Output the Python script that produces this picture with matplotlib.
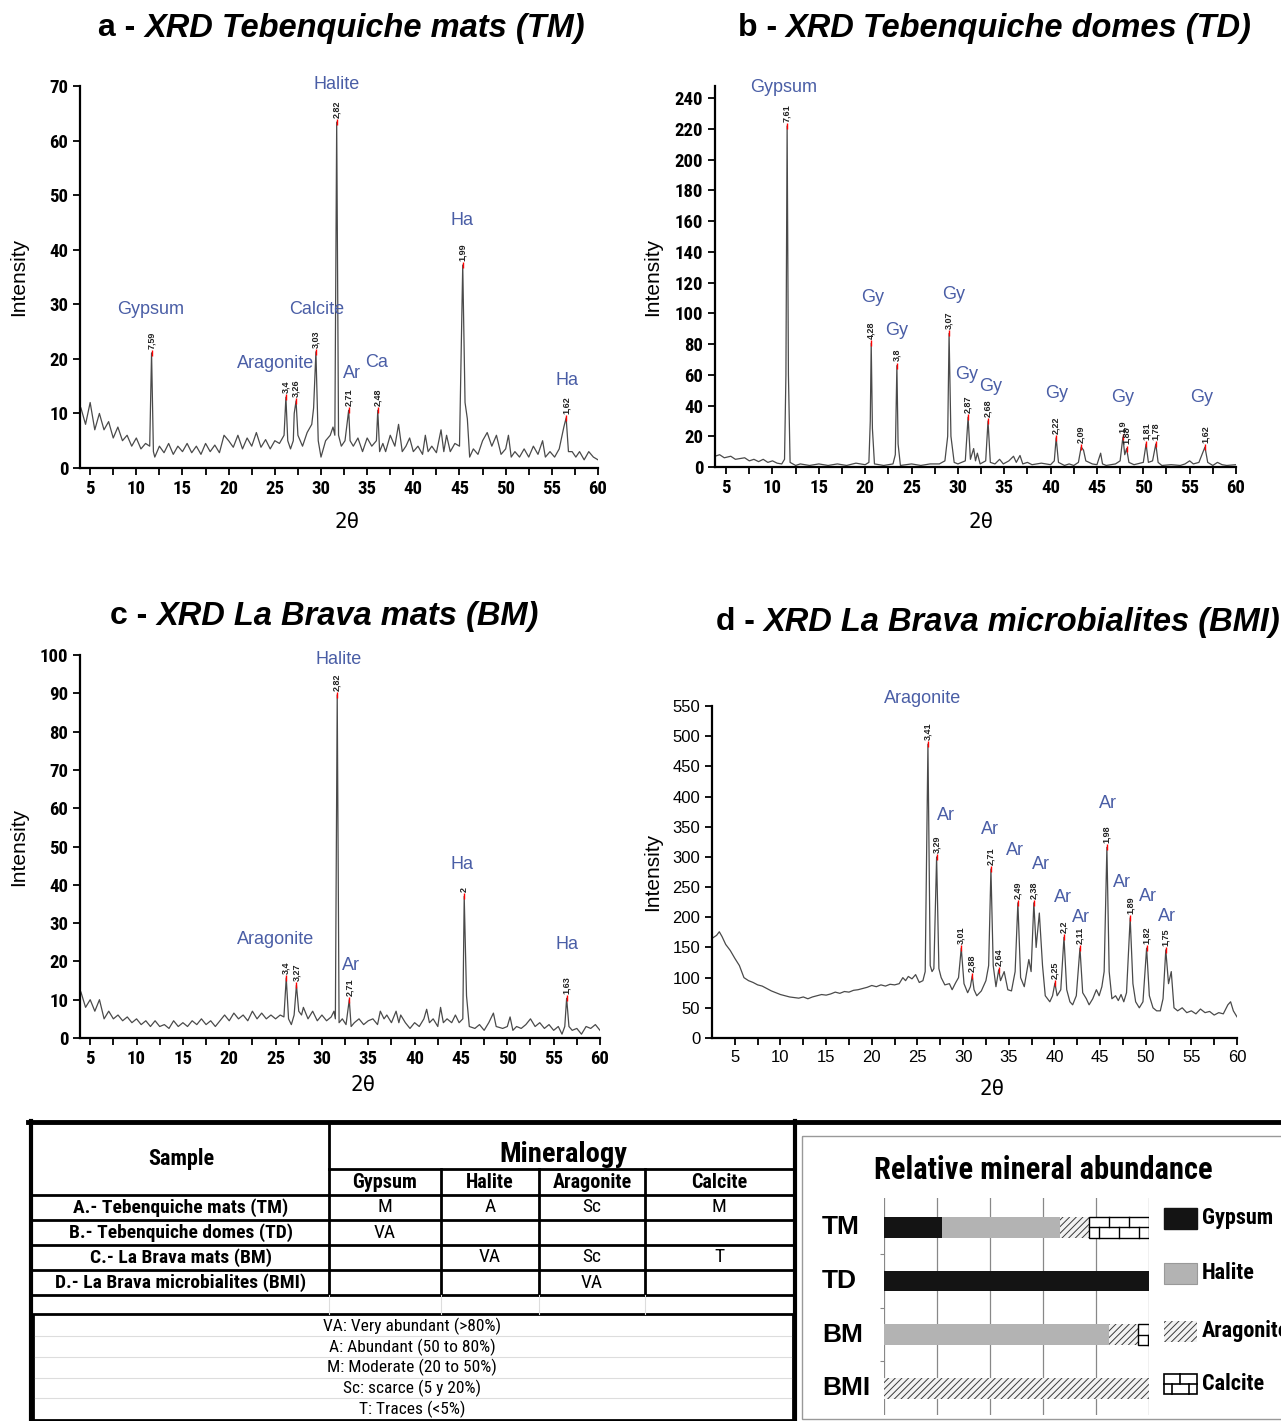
import numpy as np
import matplotlib
matplotlib.use("Agg")
import matplotlib.pyplot as plt
from matplotlib import font_manager
from matplotlib.patches import Rectangle
import matplotlib.transforms as mtransforms

# ---------------------------------------------------------------- data
# Panel a - Tebenquiche mats (TM)
A_X = [4.0, 4.5, 5.0, 5.5, 6.0, 6.5, 7.0, 7.5, 8.0, 8.5, 9.0, 9.5, 10.0, 10.5, 11.0, 11.45, 11.65, 11.85,
       12.0, 12.5, 13.0, 13.5, 14.0, 14.5, 15.0, 15.5, 16.0, 16.5, 17.0, 17.5, 18.0, 18.5, 19.0, 19.5,
       20.0, 20.5, 21.0, 21.5, 22.0, 22.5, 23.0, 23.5, 24.0, 24.5, 25.0, 25.5, 26.0, 26.2, 26.4, 26.7,
       27.0, 27.1, 27.3, 27.5, 28.0, 28.5, 29.0, 29.2, 29.45, 29.7, 30.0, 30.5, 31.0, 31.3, 31.5, 31.7,
       31.9, 32.2, 32.6, 33.0, 33.15, 33.5, 34.0, 34.5, 35.0, 35.5, 36.0, 36.15, 36.35, 36.7, 37.0, 37.5,
       38.0, 38.4, 38.8, 39.2, 39.6, 40.0, 40.5, 41.0, 41.3, 41.6, 42.0, 42.5, 43.0, 43.3, 43.6, 44.0,
       44.5, 45.0, 45.35, 45.6, 45.85, 46.1, 46.5, 47.0, 47.5, 48.0, 48.5, 49.0, 49.5, 50.0, 50.3, 50.6,
       51.0, 51.5, 52.0, 52.5, 53.0, 53.5, 54.0, 54.3, 54.8, 55.3, 55.8, 56.3, 56.55, 56.8, 57.2, 57.6,
       58.0, 58.5, 59.0, 59.5, 60.0]
A_Y = [11, 8, 12, 7, 10, 7, 8.5, 5.5, 7.5, 5, 6, 4, 5.5, 3.5, 4.5, 4, 21.1, 3,
       2, 4, 2.8, 4.5, 2.5, 4, 3, 4.5, 2.8, 4, 2.5, 4.5, 3, 4.2, 2.8, 6,
       5, 3.8, 6, 3.5, 5.5, 4, 6.5, 3.8, 5.2, 3.5, 5, 4.5, 6, 13, 5, 3.5,
       5, 10, 12.3, 6, 4, 6.5, 8, 11, 21.3, 5, 2, 5, 6, 7.5, 6, 63.4,
       6, 4, 5, 10.6, 5, 4, 5.5, 3, 5.5, 4, 5, 10.6, 3, 4.5, 3, 6,
       4, 8, 3, 4, 5.5, 3, 4, 2.5, 6, 3, 4, 2.8, 7, 3, 6, 3,
       4.5, 4, 37.2, 12, 9, 2, 3.5, 2.5, 5, 6.5, 4, 6, 2.5, 3.5, 6, 2,
       3, 2, 3.5, 2, 4, 2.5, 5, 2, 3, 2, 3.5, 7.5, 9.2, 3, 3, 2,
       3, 1.5, 3, 2, 1.5]
A_D_POS = [11.65, 26.2, 27.3, 29.45, 31.7, 33.0, 36.15, 45.35, 56.55]
A_D_INT = [21.1, 13, 12.3, 21.3, 63.4, 10.6, 10.6, 37.2, 9.2]
A_D_TXT = ["7,59", "3,4", "3,26", "3,03", "2,82", "2,71", "2,48", "1,99", "1,62"]
A_MIN = ["Gypsum", "Aragonite", "Calcite", "Halite", "Ar", "Ca", "Ha", "Ha"]

# Panel b - Tebenquiche domes (TD)
B_X = [3.8, 4.3, 4.8, 5.5, 6.0, 7.0, 7.5, 8.0, 8.5, 9.0, 9.5, 10.0, 10.5, 11.0, 11.3, 11.45, 11.58, 11.72, 11.9,
       12.5, 13.0, 14.0, 15.0, 16.0, 17.0, 18.0, 19.0, 20.0, 20.4, 20.55, 20.65, 20.78, 21.0, 22.0, 23.0,
       23.25, 23.42, 23.55, 23.8, 25.0, 26.0, 27.0, 28.0, 28.6, 28.9, 29.05, 29.25, 29.6, 30.0, 30.8, 31.1,
       31.35, 31.7, 31.9, 32.1, 32.4, 33.0, 33.25, 33.5, 34.0, 34.5, 34.9, 35.5, 36.0, 36.3, 36.7, 37.0,
       37.5, 38.0, 39.0, 40.0, 40.4, 40.6, 40.85, 41.5, 42.0, 42.5, 43.0, 43.3, 43.55, 43.8, 44.5, 45.0,
       45.4, 45.6, 46.0, 47.0, 47.5, 47.8, 48.0, 48.2, 48.45, 49.0, 50.0, 50.3, 50.55, 51.0, 51.35, 51.6,
       52.0, 53.0, 54.0, 54.5, 55.0, 55.4, 56.0, 56.65, 56.95, 57.5, 58.0, 58.5, 59.0, 60.0]
B_Y = [7, 8, 6, 7, 5, 6, 4, 5, 3.5, 5, 3, 4, 2.5, 2, 5, 60, 222, 60, 3,
       1, 2, 1, 2, 1, 2, 1, 2.5, 1.5, 3, 30, 80.6, 25, 2, 1, 2,
       8, 66, 15, 1, 2, 1, 2, 2, 4, 20, 87, 20, 3, 2, 4, 32.5,
       5, 12, 4, 9, 2, 4, 30, 3, 2, 5, 2, 4, 7, 3, 7.5, 2,
       3, 1.5, 2.5, 1.5, 4, 19, 3, 1, 2, 1, 3, 13, 11, 4, 2, 1.5,
       9, 2, 1, 2, 4, 19.5, 8, 12, 3, 1.5, 3, 15, 3, 4, 15, 3,
       1, 1.5, 1, 2, 4, 2, 3, 13, 3, 1, 3, 1.5, 1, 1.5]
B_D_POS = [11.58, 20.65, 23.42, 29.05, 31.1, 33.25, 40.6, 43.3, 47.8, 48.2, 50.3, 51.35, 56.65]
B_D_INT = [222, 80.6, 66, 87, 32.5, 30, 19, 13, 19.5, 12, 15, 15, 13]
B_D_TXT = ["7,61", "4,28", "3,8", "3,07", "2,87", "2,68", "2,22", "2,09", "1,9", "1,88", "1,81", "1,78", "1,62"]
B_MIN = ["Gypsum", "Gy", "Gy", "Gy", "Gy", "Gy", "Gy", "Gy", "Gy"]

# Panel c - La Brava mats (BM)
C_X = [4.0, 4.5, 5.0, 5.5, 6.0, 6.5, 7.0, 7.5, 8.0, 8.5, 9.0, 9.5, 10.0, 10.5, 11.0, 11.5, 12.0, 12.5,
       13.0, 13.5, 14.0, 14.5, 15.0, 15.5, 16.0, 16.5, 17.0, 17.5, 18.0, 18.5, 19.0, 19.5, 20.0, 20.5,
       21.0, 21.5, 22.0, 22.5, 23.0, 23.5, 24.0, 24.5, 25.0, 25.5, 25.9, 26.15, 26.4, 26.7, 27.0, 27.25,
       27.5, 27.8, 28.0, 28.5, 29.0, 29.5, 30.0, 30.5, 31.0, 31.3, 31.45, 31.65, 31.85, 32.2, 32.6, 32.95,
       33.15, 33.5, 34.0, 34.5, 35.0, 35.5, 36.0, 36.3, 36.7, 37.0, 37.5, 38.0, 38.3, 38.5, 39.0, 39.5,
       40.0, 40.5, 41.0, 41.3, 41.6, 42.0, 42.5, 42.8, 43.1, 43.5, 44.0, 44.4, 44.8, 45.2, 45.35, 45.6,
       45.9, 46.5, 47.0, 47.5, 48.0, 48.5, 48.8, 49.5, 50.0, 50.3, 50.6, 51.0, 51.5, 52.0, 52.5, 53.0,
       53.5, 54.0, 54.5, 55.0, 55.5, 55.9, 56.2, 56.4, 56.65, 57.0, 57.5, 58.0, 58.5, 59.0, 59.5, 60.0]
C_Y = [12, 8, 10, 7, 10, 5, 7, 5, 6, 4.5, 5.5, 4, 5, 3.5, 4.5, 3, 4.5, 3,
       3.5, 2.5, 4.5, 3, 4, 3, 4.5, 3.5, 5, 3.5, 4.5, 3, 4.5, 6, 4.5, 6.5,
       5, 6, 4.5, 7, 5, 6.5, 5, 6, 5, 6, 5.5, 15.7, 5, 3.5, 6, 13.8,
       7, 6, 8, 5, 7, 4.5, 6, 4.5, 5.5, 7, 5, 89.6, 4, 5, 3.5, 10,
       3, 4, 5, 3.5, 4.5, 5, 3.5, 7, 5, 6, 4, 7, 4, 6, 4, 2.5,
       4, 3, 5, 7.5, 4, 5, 3, 8, 4, 5, 4, 6, 4, 5, 37, 11,
       3, 2.5, 3.5, 2, 4, 6.5, 3, 2.5, 3, 5.5, 2, 3, 2.5, 3.5, 5, 3,
       4, 2.5, 3.5, 2, 3, 1, 3, 10.4, 3, 2, 2.5, 1, 3, 2.5, 3.5, 2]
C_D_POS = [26.15, 27.25, 31.65, 32.95, 45.35, 56.4]
C_D_INT = [15.7, 13.8, 89.6, 10, 37, 10.4]
C_D_TXT = ["3,4", "3,27", "2,82", "2,71", "2", "1,63"]
C_MIN = ["Halite", "Aragonite", "Ar", "Ha", "Ha"]

# Panel d - La Brava microbialites (BMI)
D_X = [2.5, 3.0, 3.3, 3.6, 4.0, 4.5, 5.0, 5.5, 6.0, 6.5, 7.0, 7.5, 8.0, 8.5, 9.0, 9.5, 10.0, 10.5, 11.0,
       11.5, 12.0, 12.5, 13.0, 13.5, 14.0, 14.5, 15.0, 15.5, 16.0, 16.5, 17.0, 17.5, 18.0, 18.5, 19.0,
       19.5, 20.0, 20.5, 21.0, 21.5, 22.0, 22.5, 23.0, 23.4, 23.7, 24.0, 24.4, 24.8, 25.2, 25.6, 25.85,
       26.15, 26.4, 26.6, 26.8, 27.1, 27.35, 27.6, 28.0, 28.5, 28.8, 29.2, 29.5, 29.8, 30.1, 30.5, 30.8,
       31.0, 31.2, 31.5, 32.0, 32.5, 32.8, 33.05, 33.3, 33.6, 33.9, 34.1, 34.5, 34.9, 35.3, 35.7, 36.0,
       36.3, 36.7, 37.2, 37.45, 37.75, 38.0, 38.35, 38.7, 39.0, 39.5, 39.8, 40.06, 40.3, 40.7, 41.05, 41.35,
       41.7, 42.0, 42.4, 42.8, 43.1, 43.5, 43.8, 44.2, 44.6, 44.9, 45.2, 45.45, 45.75, 46.0, 46.3, 46.7,
       47.0, 47.3, 47.6, 47.9, 48.3, 48.6, 48.9, 49.3, 49.7, 50.1, 50.4, 50.8, 51.2, 51.6, 51.9, 52.2,
       52.5, 52.8, 53.1, 53.5, 54.0, 54.5, 55.0, 55.5, 56.0, 56.5, 57.0, 57.5, 58.0, 58.5, 59.0, 59.3,
       59.6, 60.0]
D_Y = [165, 170, 176, 168, 155, 145, 132, 120, 100, 95, 92, 88, 86, 82, 78, 75, 72, 70, 68,
       67, 66, 68, 65, 68, 70, 72, 71, 73, 76, 74, 77, 76, 79, 80, 82,
       84, 87, 85, 88, 86, 89, 88, 90, 100, 95, 102, 98, 105, 92, 95, 110,
       487, 120, 110, 115, 300, 115, 100, 88, 90, 80, 92, 100, 149, 90, 75, 85,
       103, 80, 70, 78, 95, 120, 280, 120, 85, 113, 95, 110, 80, 78, 110, 224,
       100, 85, 130, 110, 224, 150, 207, 120, 70, 60, 70, 91, 70, 80, 167, 80,
       60, 55, 70, 149, 75, 65, 55, 65, 80, 70, 85, 110, 316, 110, 65, 70,
       62, 72, 60, 75, 199, 90, 60, 50, 60, 149, 70, 50, 45, 45, 65, 146,
       90, 110, 50, 45, 50, 42, 45, 40, 48, 42, 44, 38, 42, 40, 55, 60,
       45, 35]
D_D_POS = [26.15, 27.1, 29.8, 31.0, 33.05, 33.9, 36.0, 37.75, 40.06, 41.05, 42.8, 45.75, 48.3, 50.1, 52.2]
D_D_INT = [487, 300, 149, 103, 280, 113, 224, 224, 91, 167, 149, 316, 199, 149, 146]
D_D_TXT = ["3,41", "3,29", "3,01", "2,88", "2,71", "2,64", "2,49", "2,38", "2,25", "2,2", "2,11",
           "1,98", "1,89", "1,82", "1,75"]
D_MIN = ["Aragonite", "Ar", "Ar", "Ar", "Ar", "Ar", "Ar", "Ar", "Ar", "Ar", "Ar"]

# Table
SAMPLES = ["A.- Tebenquiche mats (TM)", "B.- Tebenquiche domes (TD)",
           "C.- La Brava mats (BM)", "D.- La Brava microbialites (BMI)"]
MINERALS = ["Gypsum", "Halite", "Aragonite", "Calcite"]
CODES = [["M", "A", "Sc", "M"],
         ["VA", "", "", ""],
         ["", "VA", "Sc", "T"],
         ["", "", "VA", ""]]
CODE_KEY = ["VA: Very abundant (>80%)", "A: Abundant (50 to 80%)", "M: Moderate (20 to 50%)",
            "Sc: scarce (5 y 20%)", "T: Traces (<5%)"]

# Relative abundance (%)
SHORT = ["TM", "TD", "BM", "BMI"]
GYPSUM = [22, 100, 0, 0]
HALITE = [44.5, 0, 85, 0]
ARAGONITE = [11, 0, 10.7, 100]
CALCITE = [22.5, 0, 4.3, 0]

# ---------------------------------------------------------------- style
W, H = 1281, 1421
_fonts = font_manager.fontManager.ttflist
_names = {f.name for f in _fonts}


def pick_narrow():
    for fam in ["Liberation Sans Narrow", "Arial Narrow", "Roboto Condensed", "Open Sans Condensed",
                "Noto Sans Condensed", "DejaVu Sans Condensed"]:
        if fam in _names:
            return {"family": fam}, 1.0
    for fam in ["DejaVu Sans", "Noto Sans", "Open Sans", "Roboto"]:
        for f in _fonts:
            if f.name == fam and str(f.stretch) in ("condensed", "semi-condensed", "extra-condensed"):
                return {"family": fam, "stretch": "condensed"}, 1.05
    return {"family": "Liberation Sans"}, 0.86


NARROW, NSCALE = pick_narrow()
ARIAL = "Liberation Sans" if "Liberation Sans" in _names else "DejaVu Sans"
plt.rcParams["font.family"] = [ARIAL, "DejaVu Sans"]
plt.rcParams["hatch.linewidth"] = 0.7


def nfont(size, bold=False):
    d = dict(NARROW)
    d["fontsize"] = size * NSCALE
    if bold:
        d["fontweight"] = "bold"
    return d


BLUE = "#4a5ea6"
TRACE = "#4a4a4a"

fig = plt.figure(figsize=(W / 100, H / 100), dpi=100)
fig.patch.set_facecolor("white")


def px_axes(l, r, b, t):
    return fig.add_axes([l / W, 1 - b / H, (r - l) / W, (b - t) / H])


def xrd(ax, xs, ys, dpos, dint, dtxt, mins, minpos, xlim, ylim, ystep, ylab_xy, xlab_xy, narrow_ticks=True):
    ax.plot(xs, ys, color=TRACE, lw=0.9, zorder=2)
    ax.plot(dpos, dint, ls="none", marker="|", color="red", ms=5, mew=1.0, zorder=3)
    for x, y, t in zip(dpos, dint, dtxt):
        ax.annotate(t, (x, y), xytext=(0, 3), textcoords="offset points", rotation=90,
                    ha="center", va="bottom", fontsize=6.5, fontweight="bold", color="#222222")
    for name, (x, y) in zip(mins, minpos):
        ax.text(x, y, name, color=BLUE, fontsize=13, ha="center", va="center")
    ax.set_xlim(*xlim)
    ax.set_ylim(*ylim)
    ax.set_xticks(np.arange(5, 61, 5))
    ax.set_xticks(np.arange(5, 60, 2.5), minor=True)
    ax.set_yticks(np.arange(0, ylim[1] + 0.1, ystep))
    for s in ("top", "right"):
        ax.spines[s].set_visible(False)
    for s in ("left", "bottom"):
        ax.spines[s].set_linewidth(1.6)
    ax.tick_params(which="both", direction="out", length=5, width=1.3)
    for lab in ax.get_xticklabels() + ax.get_yticklabels():
        if narrow_ticks:
            lab.set_fontproperties(font_manager.FontProperties(**{k: v for k, v in NARROW.items()},
                                                               weight="bold", size=13.5 * NSCALE))
        else:
            lab.set_fontfamily(ARIAL)
            lab.set_fontsize(12)
    ax.set_ylabel("Intensity", fontsize=15)
    ax.yaxis.set_label_coords(*ylab_xy)
    ax.set_xlabel("2θ", fontsize=15, family="DejaVu Sans Mono")
    ax.xaxis.set_label_coords(*xlab_xy)
    ax.patch.set_visible(False)


# Panel a
axa = px_axes(80, 598, 468, 86)
xrd(axa, A_X, A_Y, A_D_POS, A_D_INT, A_D_TXT, A_MIN,
    [(11.6, 29), (25.1, 19.2), (29.5, 29), (31.7, 70.2), (33.4, 17.4), (36.0, 19.4), (45.3, 45.3), (56.6, 16.1)],
    (3.9, 60), (0, 70), 10, (-0.10, 0.5), (0.515, -0.115))
# Panel b
axb = px_axes(715, 1236, 467, 86)
xrd(axb, B_X, B_Y, B_D_POS, B_D_INT, B_D_TXT, B_MIN,
    [(11.15, 247), (20.75, 110.6), (23.4, 89), (29.5, 112.5), (30.9, 60), (33.5, 52.7), (40.6, 48),
     (47.8, 45), (56.3, 45)],
    (3.8, 60), (0, 248), 20, (-0.102, 0.5), (0.51, -0.118))
# Panel c
axc = px_axes(80, 600, 1038, 655)
xrd(axc, C_X, C_Y, C_D_POS, C_D_INT, C_D_TXT, C_MIN,
    [(31.75, 98.7), (25.05, 25.6), (33.1, 19), (45.1, 45.4), (56.4, 24.5)],
    (3.9, 60), (0, 100), 10, (-0.10, 0.5), (0.545, -0.096))
# Panel d
axd = px_axes(712, 1237, 1038, 706)
xrd(axd, D_X, D_Y, D_D_POS, D_D_INT, D_D_TXT, D_MIN,
    [(25.6, 563), (28.1, 369), (32.9, 345), (35.7, 310), (38.5, 288), (40.9, 232), (42.9, 199),
     (45.9, 389), (47.4, 258), (50.25, 234), (52.3, 202)],
    (2.5, 60), (0, 550), 50, (-0.095, 0.5), (0.533, -0.124), narrow_ticks=False)

# overlay axes in pixel coordinates (titles, table)
ov = fig.add_axes([0, 0, 1, 1])
ov.set_xlim(0, W)
ov.set_ylim(H, 0)
ov.axis("off")
ov.patch.set_visible(False)


def title(x, y, letter, rest):
    t = ov.text(x, y, letter + " - ", fontsize=23, fontweight="bold", va="center", ha="left")
    ov.annotate(rest, xy=(1, 0.5), xycoords=t, va="center", ha="left",
                fontsize=23.5, fontweight="bold", fontstyle="italic")


title(98, 28, "a", "XRD Tebenquiche mats (TM)")
title(738, 28, "b", "XRD Tebenquiche domes (TD)")
title(110, 616, "c", "XRD La Brava mats (BM)")
title(716, 622, "d", "XRD La Brava microbialites (BMI)")

# ---------------------------------------------------------------- table
K = "black"
ov.plot([28, W], [1122, 1122], color=K, lw=3.5)
ov.plot([31, 31], [1121, H], color=K, lw=3)
ov.plot([795, 795], [1121, H], color=K, lw=3)
cols = [33, 329, 441, 539, 645, 793]
rows = [1195, 1220, 1245, 1270, 1295]
ov.plot([329, 329], [1123, 1295], color=K, lw=2)
ov.plot([329, 793], [1169, 1169], color=K, lw=2)
for c in cols[2:5]:
    ov.plot([c, c], [1169, 1295], color=K, lw=2)
for r in rows:
    ov.plot([33, 793], [r, r], color=K, lw=2)
for c in cols[1:5]:
    ov.plot([c, c], [1295, 1314], color="#dddddd", lw=0.8)
ov.text(181, 1159, "Sample", ha="center", va="center", **nfont(16, True))
ov.text(563, 1155, "Mineralogy", ha="center", va="center", **nfont(20.5, True))
for i, m in enumerate(MINERALS):
    ov.text((cols[i + 1] + cols[i + 2]) / 2, 1183, m, ha="center", va="center", **nfont(14.5, True))
row_bounds = list(zip(rows[:-1], rows[1:]))
for j, s in enumerate(SAMPLES):
    yc = sum(row_bounds[j]) / 2
    ov.text(181, yc, s, ha="center", va="center", **nfont(14, True))
    for i, code in enumerate(CODES[j]):
        ov.text((cols[i + 1] + cols[i + 2]) / 2, yc, code, ha="center", va="center", **nfont(14))
ov.add_patch(Rectangle((33, 1314), 760, H - 1314 - 1, fill=False, ec=K, lw=2))
for yy in (1336, 1357, 1378, 1398):
    ov.plot([35, 791], [yy, yy], color="#dddddd", lw=0.8)
for i, line in enumerate(CODE_KEY):
    ov.text(412, 1326 + i * 20.9, line, ha="center", va="center", **nfont(12.5))

# ---------------------------------------------------------------- abundance box
ov.add_patch(Rectangle((802, 1136), W - 802 + 5, 1419 - 1136, fill=False, ec="#999999", lw=1))
ov.text(1043, 1170, "Relative mineral abundance", ha="center", va="center", **nfont(22, True))

axr = px_axes(884, 1149, 1415, 1198)
yy = np.arange(len(SHORT))
BAR_H = 0.39
gyp = np.array(GYPSUM, float)
hal = np.array(HALITE, float)
ara = np.array(ARAGONITE, float)
cal = np.array(CALCITE, float)
axr.barh(yy, gyp, height=BAR_H, color="#141414", zorder=3)
axr.barh(yy, hal, left=gyp, height=BAR_H, color="#b3b3b3", zorder=3)
axr.barh(yy, ara, left=gyp + hal, height=BAR_H, color="#f2f2f2", edgecolor="#3a3a3a",
         hatch="/////", lw=0, zorder=3)
left_c = gyp + hal + ara
BRICK = 7.5


def bricks(ax, x0, x1, yc, h, lw=1.0):
    ax.add_patch(Rectangle((x0, yc - h / 2), x1 - x0, h, fc="white", ec="black", lw=lw, zorder=4))
    ax.plot([x0, x1], [yc, yc], color="black", lw=lw, zorder=5)
    for k, off in ((0, BRICK), (1, BRICK / 2)):
        xs = np.arange(x0 + off, x1 - 0.5, BRICK)
        y0, y1 = (yc - h / 2, yc) if k == 0 else (yc, yc + h / 2)
        for x in xs:
            ax.plot([x, x], [y0, y1], color="black", lw=lw, zorder=5)


for i in range(len(SHORT)):
    if cal[i] > 0:
        bricks(axr, left_c[i], left_c[i] + cal[i], yy[i], BAR_H)
axr.set_xlim(0, 100)
axr.set_ylim(3.5, -0.55)
axr.set_xticks(np.arange(0, 101, 20))
axr.grid(axis="x", color="#888888", lw=0.9, zorder=0)
axr.set_yticks([0.5, 1.5, 2.5])
axr.set_yticklabels([])
axr.tick_params(axis="y", length=3, color="#888888")
axr.tick_params(axis="x", length=0, labelbottom=False)
for s in axr.spines.values():
    s.set_visible(False)
trans = mtransforms.blended_transform_factory(axr.transAxes, axr.transData)
for i, s in enumerate(SHORT):
    axr.text(-0.234, yy[i], s, transform=trans, fontsize=19, fontweight="bold",
             ha="left", va="center", family=ARIAL)

# legend
leg_y = [1218, 1273, 1331, 1384]
sw_x0, sw_w, sw_h = 1164, 33, 21
ov.add_patch(Rectangle((sw_x0, leg_y[0] - sw_h / 2), sw_w, sw_h, fc="#141414", ec="#141414"))
ov.add_patch(Rectangle((sw_x0, leg_y[1] - sw_h / 2), sw_w, sw_h, fc="#b3b3b3", ec="#999999", lw=0.8))
ov.add_patch(Rectangle((sw_x0, leg_y[2] - sw_h / 2), sw_w, sw_h, fc="#f2f2f2", ec="#3a3a3a",
                       hatch="/////", lw=0))
cy = leg_y[3]
ov.add_patch(Rectangle((sw_x0, cy - 10), sw_w, 20, fc="white", ec="black", lw=1.2))
ov.plot([sw_x0, sw_x0 + sw_w], [cy, cy], color="black", lw=1.2)
ov.plot([sw_x0 + 16, sw_x0 + 16], [cy - 10, cy], color="black", lw=1.2)
ov.plot([sw_x0 + 8, sw_x0 + 8], [cy, cy + 10], color="black", lw=1.2)
ov.plot([sw_x0 + 25, sw_x0 + 25], [cy, cy + 10], color="black", lw=1.2)
for name, y in zip(MINERALS, leg_y):
    ov.text(1202, y, name, ha="left", va="center", **nfont(16, True))

fig.savefig("out.png", dpi=100)
